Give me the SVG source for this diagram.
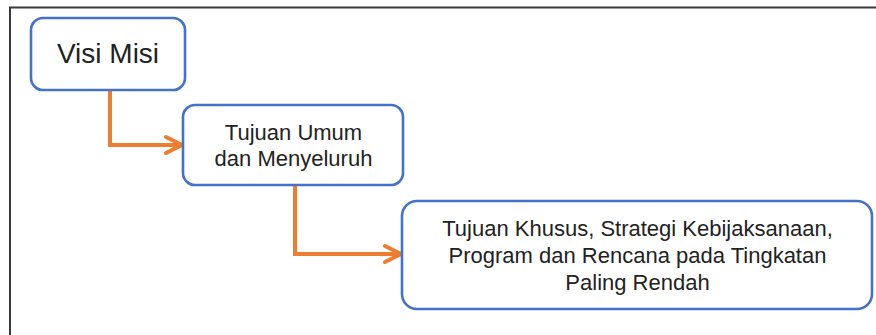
<svg xmlns="http://www.w3.org/2000/svg" width="876" height="335" viewBox="0 0 876 335">
  <defs>
    <style>
      .box { fill: #ffffff; stroke: #4472C4; stroke-width: 2.6; }
      .lbl { font-family: "Liberation Sans", Arial, sans-serif; fill: #222222; text-anchor: middle; }
      .flow { fill: none; stroke: #ED7D31; stroke-width: 4; stroke-linejoin: miter; }
      .head { fill: none; stroke: #ED7D31; stroke-width: 4; stroke-linecap: round; stroke-linejoin: round; }
      .frame { fill: none; stroke: #3a3a3a; stroke-width: 2; }
    </style>
  </defs>

  <rect width="876" height="335" fill="#ffffff"/>

  <!-- outer frame (top and left edges only) -->
  <path class="frame" d="M10,335 V7.5 H876"/>

  <!-- connectors -->
  <g id="connectors">
    <path class="flow" d="M110,90 V145 H181"/>
    <path class="head" d="M166,137 L182,145 L166,153"/>
    <path class="flow" d="M295,185 V254 H400"/>
    <path class="head" d="M385,246 L401,254 L385,262"/>
  </g>

  <g id="visi-misi">
    <rect class="box" x="31" y="18" width="154" height="72" rx="12"/>
    <text class="lbl" x="108" y="63" font-size="28">Visi Misi</text>
  </g>

  <g id="tujuan-umum">
    <rect class="box" x="183" y="105" width="220" height="80" rx="12"/>
    <text class="lbl" x="293.5" y="140" font-size="22">Tujuan Umum</text>
    <text class="lbl" x="293.5" y="166" font-size="22">dan Menyeluruh</text>
  </g>

  <g id="tujuan-khusus">
    <rect class="box" x="402" y="201" width="470" height="108" rx="15"/>
    <text class="lbl" x="637.5" y="236" font-size="22">Tujuan Khusus, Strategi Kebijaksanaan,</text>
    <text class="lbl" x="637.5" y="263" font-size="22">Program dan Rencana pada Tingkatan</text>
    <text class="lbl" x="637.5" y="290" font-size="22">Paling Rendah</text>
  </g>
</svg>
